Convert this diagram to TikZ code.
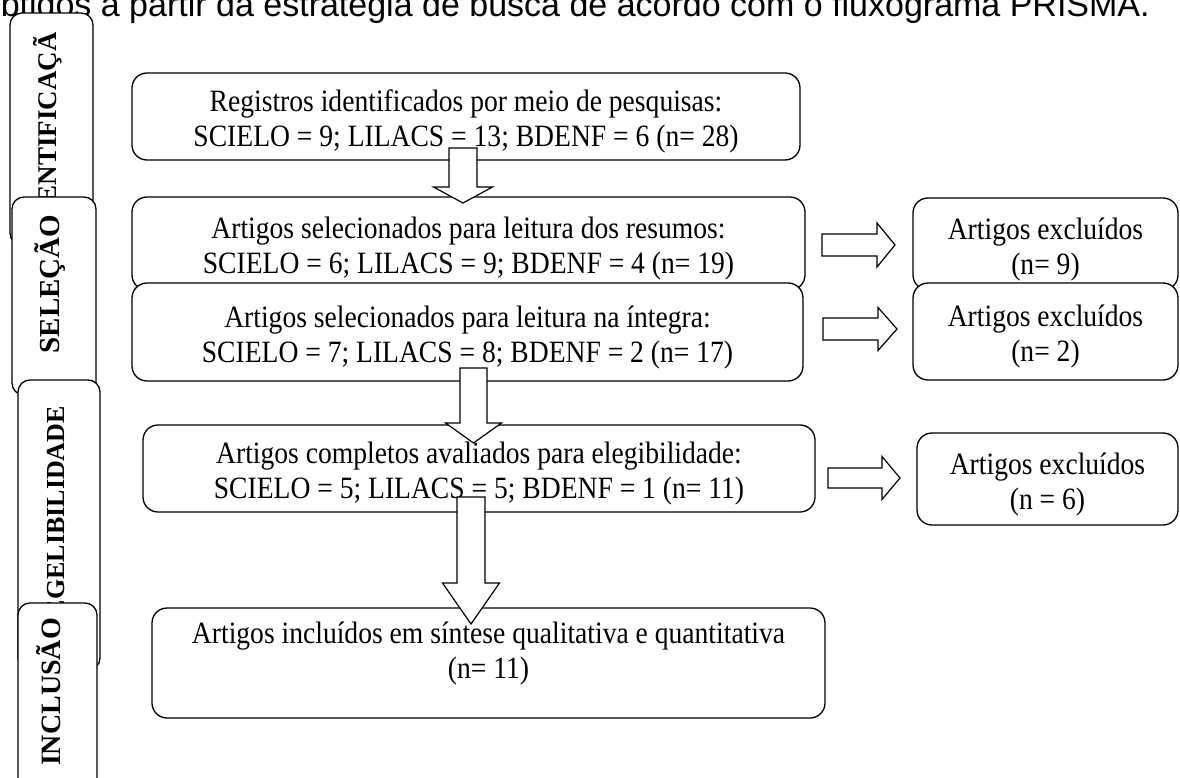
\documentclass[tikz,border=0pt]{standalone}
\usepackage{fontspec}
\setmainfont[FakeStretch=0.89]{Liberation Serif}
\newfontfamily\stagefont{Liberation Serif}
\newfontfamily\headfont{Liberation Sans}
\usepackage{tikz}

\tikzset{
  stagebox/.style={draw, fill=white, rounded corners=12pt, line width=1.3pt},
  stagetext/.style={rotate=90, font=\stagefont\fontsize{#1}{32}\selectfont\bfseries, inner sep=0pt},
  stagetext/.default=28,
  mainbox/.style={draw, fill=white, rounded corners=15pt, line width=1.3pt, align=center,
    inner sep=0pt, text height=67pt, font=\fontsize{31}{35}\selectfont},
  fatarrow/.style={draw, fill=white, line width=1.2pt, line join=miter}
}

% block arrows: centre, shaft start, head base, tip, shaft half width, head half width
\newcommand{\fatdown}[6]{%
  \draw[fatarrow] (#1-#5,#2) -- (#1+#5,#2) -- (#1+#5,#3) -- (#1+#6,#3) -- (#1,#4)
    -- (#1-#6,#3) -- (#1-#5,#3) -- cycle;}
\newcommand{\fatright}[6]{%
  \draw[fatarrow] (#2,#1-#5) -- (#2,#1+#5) -- (#3,#1+#5) -- (#3,#1+#6) -- (#4,#1)
    -- (#3,#1-#6) -- (#3,#1-#5) -- cycle;}

\begin{document}
\begin{tikzpicture}[x=1pt,y=-1pt]
  \useasboundingbox (0,0) rectangle (1180,778);
  \clip (0,0) rectangle (1180,778);

  % caption line cut by the page edge
  \node[anchor=base east, inner sep=0pt, font=\headfont\fontsize{34}{38}\selectfont] (cap)
    at (1150,17) {obtidos a partir da estratégia de busca de acordo com o fluxograma PRISMA.};

  % stage labels
  \draw[stagebox] (10,13) rectangle (93,245);
  \begin{scope}
    \clip (10,33) rectangle (93,245);
    \node[stagetext=27] (ident) at (48,122) {IDENTIFICAÇÃO};
  \end{scope}
  \draw[stagebox] (12,197) rectangle (96,395);
  \node[stagetext=29] (sel) at (50,284) {SELEÇÃO};
  \draw[stagebox] (18,380) rectangle (100,670);
  \node[stagetext=26] (eleg) at (56,529) {ELEGELIBILIDADE};
  \draw[stagebox] (18,603) rectangle (97,800);
  \node[stagetext=28] (incl) at (49,692) {INCLUSÃO};

  % main column
  \node[mainbox, minimum width=668pt, minimum height=87pt] (reg) at (466,116.5)
    {Registros identificados por meio de pesquisas:\\SCIELO = 9; LILACS = 13; BDENF = 6 (n= 28)};
  \node[mainbox, minimum width=673pt, minimum height=93pt] (resumos) at (468.5,243.5)
    {Artigos selecionados para leitura dos resumos:\\SCIELO = 6; LILACS = 9; BDENF = 4 (n= 19)};
  \node[mainbox, minimum width=671pt, minimum height=98pt] (integra) at (467.5,332)
    {Artigos selecionados para leitura na íntegra:\\SCIELO = 7; LILACS = 8; BDENF = 2 (n= 17)};
  \node[mainbox, minimum width=672pt, minimum height=87pt] (elegiveis) at (479,468.5)
    {Artigos completos avaliados para elegibilidade:\\SCIELO = 5; LILACS = 5; BDENF = 1 (n= 11)};
  \node[mainbox, minimum width=673pt, minimum height=110pt, text depth=37pt] (incluidos) at (488.5,663)
    {Artigos incluídos em síntese qualitativa e quantitativa\\(n= 11)};

  % excluded column
  \node[mainbox, minimum width=265pt, minimum height=92pt] (exc1) at (1045.5,244)
    {Artigos excluídos\\(n= 9)};
  \node[mainbox, minimum width=265pt, minimum height=97pt] (exc2) at (1045.5,331.5)
    {Artigos excluídos\\(n= 2)};
  \node[mainbox, minimum width=261pt, minimum height=92pt] (exc3) at (1047.5,479)
    {Artigos excluídos\\(n = 6)};

  % block arrows
  \fatdown{463}{148}{187}{203}{14}{29.5}
  \fatdown{473.5}{368}{423}{443}{13.5}{28}
  \fatdown{471}{497}{583}{624}{14}{28.5}
  \fatright{245}{822}{877}{895}{11}{22}
  \fatright{329}{823}{878}{897}{11}{21.5}
  \fatright{478}{828}{882}{900}{10}{21.5}
\end{tikzpicture}
\end{document}
